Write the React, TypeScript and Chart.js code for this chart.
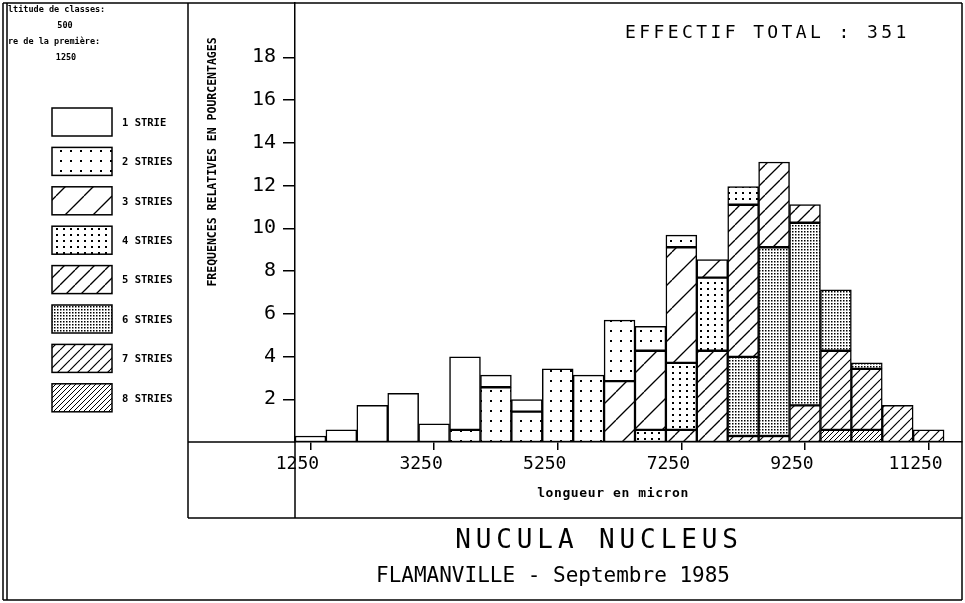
import React, { useEffect, useRef } from 'react';
import { Chart, registerables } from 'chart.js';

Chart.register(...registerables);

// ---- data (percentages, N = 351) ----
// class centres (first class centred on 1250, class width 500)
const binCenters = [1250, 1750, 2250, 2750, 3250, 3750, 4250, 4750, 5250, 5750, 6250, 6750, 7250, 7750, 8250, 8750, 9250, 9750, 10250, 10750, 11250];
const xTickValues = [1250, 3250, 5250, 7250, 9250, 11250];
const yTickValues = [2, 4, 6, 8, 10, 12, 14, 16, 18];
const seriesLabels = ['1 STRIE', '2 STRIES', '3 STRIES', '4 STRIES', '5 STRIES', '6 STRIES', '7 STRIES', '8 STRIES'];

const strie1 = [0.28, 0.57, 1.71, 2.28, 0.85, 3.42, 0.57, 0.57, 0, 0, 0, 0, 0, 0, 0, 0, 0, 0, 0, 0, 0];
const strie2 = [0, 0, 0, 0, 0, 0.57, 2.56, 1.42, 3.42, 3.13, 2.85, 1.14, 0.57, 0, 0, 0, 0, 0, 0, 0, 0];
const strie3 = [0, 0, 0, 0, 0, 0, 0, 0, 0, 0, 2.85, 3.70, 5.41, 0.85, 0, 0, 0, 0, 0, 0, 0];
const strie4 = [0, 0, 0, 0, 0, 0, 0, 0, 0, 0, 0, 0.57, 3.13, 3.42, 0.85, 0, 0, 0, 0, 0, 0];
const strie5 = [0, 0, 0, 0, 0, 0, 0, 0, 0, 0, 0, 0, 0.57, 4.27, 7.12, 3.99, 0.85, 0, 0, 0, 0];
const strie6 = [0, 0, 0, 0, 0, 0, 0, 0, 0, 0, 0, 0, 0, 0, 3.70, 8.83, 8.55, 2.85, 0.28, 0, 0];
const strie7 = [0, 0, 0, 0, 0, 0, 0, 0, 0, 0, 0, 0, 0, 0, 0.28, 0.28, 1.71, 3.70, 2.85, 1.71, 0.57];
const strie8 = [0, 0, 0, 0, 0, 0, 0, 0, 0, 0, 0, 0, 0, 0, 0, 0, 0, 0.57, 0.57, 0, 0];

const totalCount = 351;
const titleText = 'NUCULA NUCLEUS';
const subtitleText = 'FLAMANVILLE - Septembre 1985';
const xTitle = 'longueur en micron';
const yTitle = 'FREQUENCES RELATIVES EN POURCENTAGES';
const headerLines = ['ltitude de classes:', '500', 're de la première:', '1250'];

const MONO = '"DejaVu Sans Mono", "Liberation Mono", monospace';

function tile(w: number, h: number) {
  const c = document.createElement('canvas');
  c.width = w;
  c.height = h;
  const g = c.getContext('2d')!;
  g.fillStyle = '#fff';
  g.fillRect(0, 0, w, h);
  return { c, g };
}

function dotPattern(ctx: CanvasRenderingContext2D, sx: number, sy: number, d: number) {
  const { c, g } = tile(sx, sy);
  g.fillStyle = '#000';
  g.fillRect(0, 0, d, d);
  return ctx.createPattern(c, 'repeat')!;
}

function hatchPattern(ctx: CanvasRenderingContext2D, s: number, lw: number) {
  const { c, g } = tile(s, s);
  g.strokeStyle = '#000';
  g.lineWidth = lw;
  for (let k = -1; k <= 1; k++) {
    g.beginPath();
    g.moveTo(k * s, s);
    g.lineTo(k * s + s, 0);
    g.stroke();
  }
  return ctx.createPattern(c, 'repeat')!;
}

function buildPatterns(ctx: CanvasRenderingContext2D) {
  return [
    '#ffffff',
    dotPattern(ctx, 10, 10, 2),
    hatchPattern(ctx, 28, 1.3),
    dotPattern(ctx, 7, 6, 2),
    hatchPattern(ctx, 15, 1.3),
    dotPattern(ctx, 3, 3, 1.5),
    hatchPattern(ctx, 10, 1.2),
    hatchPattern(ctx, 5, 1),
  ];
}

export default function App() {
  const ref = useRef<HTMLCanvasElement>(null);

  useEffect(() => {
    document.body.style.margin = '0';
    const canvas = ref.current!;
    const ctx = canvas.getContext('2d')!;
    const patterns = buildPatterns(ctx);
    const series = [strie1, strie2, strie3, strie4, strie5, strie6, strie7, strie8];

    const datasets = series
      .map((vals, i) => ({
        label: seriesLabels[i],
        data: binCenters.map((x, j) => ({ x, y: vals[j] > 0 ? vals[j] : null })),
        backgroundColor: patterns[i] as any,
        borderColor: '#000',
        borderWidth: 1.5,
        borderSkipped: false as any,
        barPercentage: 1,
        categoryPercentage: 1,
      }))
      .reverse();

    const decor = {
      id: 'decor',
      afterDraw(chart: any) {
        const c: CanvasRenderingContext2D = chart.ctx;
        const area = chart.chartArea;
        c.save();
        c.strokeStyle = '#000';
        c.fillStyle = '#000';
        c.lineWidth = 1.5;
        const line = (x1: number, y1: number, x2: number, y2: number) => {
          c.beginPath();
          c.moveTo(x1, y1);
          c.lineTo(x2, y2);
          c.stroke();
        };
        const frameTop = 3;
        const bottomFrame = 600;
        const leftPanel = 188;
        const plotBottom = 518;
        // outer frame
        line(3, frameTop, 962, frameTop);
        line(3, frameTop, 3, bottomFrame);
        line(7, frameTop, 7, bottomFrame);
        line(962, frameTop, 962, bottomFrame);
        line(3, bottomFrame, 962, bottomFrame);
        // panel separators
        line(leftPanel, frameTop, leftPanel, plotBottom);
        line(leftPanel, plotBottom, 962, plotBottom);
        line(leftPanel, area.bottom, area.left, area.bottom);
        line(area.left, area.bottom, area.left, plotBottom);

        // header in the legend panel
        c.font = `bold 8.5px ${MONO}`;
        c.textBaseline = 'middle';
        c.textAlign = 'left';
        c.fillText(headerLines[0], 8, 10);
        c.textAlign = 'center';
        c.fillText(headerLines[1], 65, 26);
        c.textAlign = 'left';
        c.fillText(headerLines[2], 8, 42);
        c.textAlign = 'center';
        c.fillText(headerLines[3], 66, 58);
        c.textAlign = 'left';

        // legend
        for (let i = 0; i < 8; i++) {
          const y = 108 + i * 39.4;
          c.fillStyle = patterns[i] as any;
          c.fillRect(52, y, 60, 28);
          c.lineWidth = 1.5;
          c.strokeRect(52, y, 60, 28);
          c.fillStyle = '#000';
          c.font = `bold 10.5px ${MONO}`;
          c.fillText(seriesLabels[i], 122, y + 15);
        }

        // y title (rotated)
        c.save();
        c.translate(213, 162);
        c.rotate(-Math.PI / 2);
        c.textAlign = 'center';
        c.font = `bold 11.5px ${MONO}`;
        c.fillText(yTitle, 0, 0);
        c.restore();

        // EFFECTIF TOTAL
        c.textAlign = 'left';
        c.font = `18px ${MONO}`;
        (c as any).letterSpacing = '3.4px';
        c.fillText(`EFFECTIF TOTAL : ${totalCount}`, 625, 33);

        // x title
        (c as any).letterSpacing = '0.6px';
        c.textAlign = 'center';
        c.font = `bold 13px ${MONO}`;
        c.fillText(xTitle, 613, 494);

        // titles
        c.font = `26px ${MONO}`;
        (c as any).letterSpacing = '4.9px';
        c.fillText(titleText, 599, 541);
        c.font = `21px ${MONO}`;
        (c as any).letterSpacing = '0px';
        c.fillText(subtitleText, 553, 577);
        c.restore();
      },
    };

    const chart = new Chart(canvas, {
      type: 'bar',
      data: { datasets: datasets as any },
      options: {
        animation: false,
        responsive: false,
        devicePixelRatio: 1,
        layout: { padding: { left: 192, right: 3, top: 3, bottom: 85 } },
        plugins: { legend: { display: false }, tooltip: { enabled: false } },
        scales: {
          x: {
            type: 'linear',
            stacked: true,
            offset: false,
            min: 1000,
            max: 11790,
            afterBuildTicks: (s: any) => {
              s.ticks = xTickValues.map((v) => ({ value: v }));
            },
            afterFit: (s: any) => {
              s.height = 76;
              s.paddingLeft = 0;
              s.paddingRight = 0;
            },
            ticks: {
              color: '#000',
              font: { family: MONO, size: 18 },
              padding: 4,
              labelOffset: -13,
              maxRotation: 0,
              autoSkip: false,
              callback: (v: any) => String(v),
            },
            grid: { display: true, offset: false, drawOnChartArea: false, drawTicks: true, tickLength: 8, color: '#000', lineWidth: 1.5 },
            border: { display: true, color: '#000', width: 1.5 },
          },
          y: {
            stacked: true,
            min: 0,
            max: 20.54,
            afterBuildTicks: (s: any) => {
              s.ticks = yTickValues.map((v) => ({ value: v }));
            },
            afterFit: (s: any) => {
              s.width = 103;
              s.paddingTop = 0;
              s.paddingBottom = 0;
            },
            ticks: {
              color: '#000',
              font: { family: MONO, size: 20 },
              padding: 7,
              callback: (v: any) => String(v),
            },
            grid: { display: true, drawOnChartArea: false, drawTicks: true, tickLength: 12, color: '#000', lineWidth: 1.5 },
            border: { display: true, color: '#000', width: 1.5 },
          },
        },
      },
      plugins: [decor],
    });
    return () => chart.destroy();
  }, []);

  return (
    <div style={{ width: 965, height: 603, background: '#fff' }}>
      <canvas ref={ref} width={965} height={603} style={{ display: 'block' }} />
    </div>
  );
}
